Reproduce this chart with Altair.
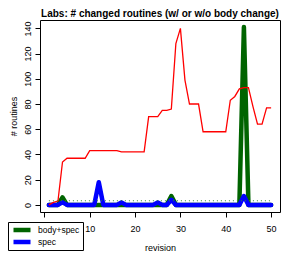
import altair as alt
import pandas as pd

# ---- data ----
revision = list(range(1, 51))
all_changed = [0, 2, 3, 34, 37, 37, 37, 37, 37, 43,
               43, 43, 43, 43, 43, 43, 42, 42, 42, 42,
               42, 42, 70, 70, 70, 75, 75, 76, 128, 140,
               99, 80, 80, 80, 58, 58, 58, 58, 58, 58,
               83, 86, 92, 93, 93, 78, 64, 64, 77, 77]
body_spec = [0, 0, 0, 6, 0, 0, 0, 0, 0, 0,
             0, 0, 0, 0, 0, 0, 0, 0, 0, 0,
             0, 0, 0, 0, 0, 0, 0, 7, 0, 0,
             0, 0, 0, 0, 0, 0, 0, 0, 0, 0,
             0, 0, 0, 141, 0, 0, 0, 0, 0, 0]
spec = [0, 0, 0, 2, 0, 0, 0, 0, 0, 0,
        0, 18, 0, 0, 0, 0, 2, 0, 0, 0,
        0, 0, 0, 0, 2, 0, 0, 4, 0, 0,
        0, 0, 0, 0, 0, 0, 0, 0, 0, 0,
        0, 0, 0, 7, 0, 0, 0, 0, 0, 0]
series_names = ["body+spec", "spec"]
series_colors = ["#006400", "#0000FF"]
dotted_level = 3.3
dotted_span = [1, 50]
x_ticks = [0, 10, 20, 30, 40, 50]
y_ticks = [0, 20, 40, 60, 80, 100, 120, 140]

FONT = "Liberation Sans"

red_df = pd.DataFrame({"revision": revision, "n": all_changed})
long_df = pd.DataFrame({
    "revision": revision + revision,
    "n": body_spec + spec,
    "series": [series_names[0]] * len(revision) + [series_names[1]] * len(revision),
    "order": [0] * len(revision) + [1] * len(revision),
})
dot_df = pd.DataFrame({"revision": dotted_span, "n": [dotted_level] * 2})

xscale = alt.Scale(domain=[-0.96, 51.96], nice=False, zero=False)
yscale = alt.Scale(domain=[-5.64, 146.64], nice=False, zero=False)

xaxis = alt.Axis(title="revision", values=x_ticks, domain=False, grid=False,
                 tickSize=5, tickColor="black", labelColor="black",
                 labelFontSize=9, labelPadding=7, labelFlush=False,
                 labelExpr="datum.value == 0 ? '' : datum.label",
                 titleFontSize=9, titleFontWeight="normal", titleColor="black",
                 titlePadding=10, format="d")
yaxis = alt.Axis(title="# routines", values=y_ticks, domain=False, grid=False,
                 tickSize=5, tickColor="black", labelColor="black",
                 labelFontSize=9, labelAngle=-90, labelAlign="center",
                 labelBaseline="bottom", labelPadding=3, labelFlush=False,
                 titleFontSize=9, titleFontWeight="normal", titleColor="black",
                 titlePadding=5, format="d")

base_x = alt.X("revision:Q", scale=xscale, axis=xaxis)
base_y = alt.Y("n:Q", scale=yscale, axis=yaxis)

thick = alt.Chart(long_df).mark_line(strokeWidth=4.5, strokeJoin="round", strokeCap="round").encode(
    x=base_x, y=base_y,
    color=alt.Color("series:N", scale=alt.Scale(domain=series_names, range=series_colors),
                    legend=alt.Legend(title=None, orient="none", legendX=-32, legendY=202,
                                      direction="vertical", symbolType="stroke",
                                      symbolStrokeWidth=4.5, symbolSize=289,
                                      labelFontSize=8.5, labelColor="black", labelFont=FONT,
                                      strokeColor="black", fillColor="white",
                                      padding=3, rowPadding=2, clipHeight=10,
                                      labelOffset=5, cornerRadius=0)),
    detail="series:N",
    order="order:Q",
)

red = alt.Chart(red_df).mark_line(color="#FF0000", strokeWidth=1.3).encode(x=base_x, y=base_y)

dots = alt.Chart(dot_df).mark_line(color="#2e8b2e", strokeWidth=1.2, strokeDash=[1, 3]).encode(x=base_x, y=base_y)

chart = alt.layer(thick, red, dots).properties(
    width=240, height=192,
    title=alt.TitleParams(text="Labs: # changed routines (w/ or w/o body change)",
                          fontSize=10, fontWeight="bold", font=FONT, color="black",
                          anchor="middle", frame="group", offset=1),
    autosize=alt.AutoSizeParams(type="none"),
    padding={"left": 32, "top": 12, "right": 6, "bottom": 42},
).configure(font=FONT).configure_view(stroke="black", strokeWidth=1).configure_axis(
    labelFont=FONT, titleFont=FONT)

chart.save("out.html", embed_options={"renderer": "svg", "actions": False})
